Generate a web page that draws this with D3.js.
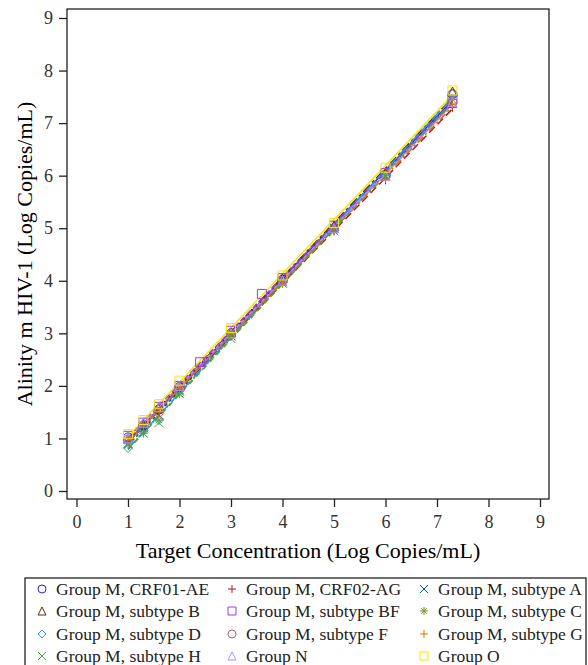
<!DOCTYPE html>
<html>
<head>
<meta charset="utf-8">
<script src="https://d3js.org/d3.v7.min.js"></script>
<style>
  body { margin: 0; background: #fff; }
  svg text { font-family: "Liberation Serif", "Times New Roman", Times, "DejaVu Serif", serif !important; }
</style>
</head>
<body>
<div id="chart"></div>
<script>
// ---- data ----
var groups = ["Group M, CRF01-AE", "Group M, CRF02-AG", "Group M, subtype A",
              "Group M, subtype B", "Group M, subtype BF", "Group M, subtype C",
              "Group M, subtype D", "Group M, subtype F", "Group M, subtype G",
              "Group M, subtype H", "Group N", "Group O"];
var targets = [1.0, 1.3, 1.6, 2.0, 3.0, 4.0, 5.0, 6.0, 7.3];
var targetsBF = [1.0, 1.3, 1.6, 2.0, 2.4, 3.0, 3.6, 4.0, 5.0, 6.0, 7.3];
var crf01ae = [1.02, 1.25, 1.55, 1.98, 3.00, 4.02, 5.00, 6.02, 7.55];
var crf02ag = [0.95, 1.20, 1.50, 1.95, 2.95, 3.95, 4.95, 5.92, 7.30];
var subA    = [0.90, 1.20, 1.45, 1.90, 2.95, 3.98, 5.00, 6.00, 7.45];
var subB    = [1.00, 1.28, 1.60, 2.00, 3.02, 4.05, 5.05, 6.05, 7.60];
var subBF   = [1.05, 1.30, 1.60, 2.00, 2.45, 3.05, 3.75, 4.05, 5.05, 6.05, 7.45];
var subC    = [0.90, 1.10, 1.35, 1.85, 2.95, 3.95, 4.95, 6.00, 7.45];
var subD    = [0.82, 1.15, 1.35, 1.90, 2.98, 4.00, 5.00, 6.05, 7.55];
var subF    = [0.98, 1.20, 1.50, 1.95, 3.00, 4.00, 5.00, 6.00, 7.40];
var subG    = [1.00, 1.25, 1.50, 1.95, 3.00, 3.95, 5.00, 5.95, 7.35];
var subH    = [0.88, 1.10, 1.30, 1.85, 2.90, 3.95, 4.95, 6.00, 7.45];
var grpN    = [1.00, 1.30, 1.60, 2.00, 3.00, 4.00, 5.00, 6.00, 7.40];
var grpO    = [1.08, 1.35, 1.65, 2.10, 3.10, 4.10, 5.10, 6.15, 7.62];
var xTicks = [0, 1, 2, 3, 4, 5, 6, 7, 8, 9];
var yTicks = [0, 1, 2, 3, 4, 5, 6, 7, 8, 9];

var xsList = [targets, targets, targets, targets, targetsBF, targets, targets, targets, targets, targets, targets, targets];
var ysList = [crf01ae, crf02ag, subA, subB, subBF, subC, subD, subF, subG, subH, grpN, grpO];

var colors = ["#2A25D9", "#B2182B", "#01665E", "#543005", "#9D3CDB", "#7F8E1F",
              "#2597FA", "#B26084", "#D17800", "#47A82A", "#B38EF3", "#F9E500"];
var shapes = ["circle", "plus", "x", "triangle", "square", "star",
              "diamond", "circle", "plus", "x", "triangle", "square"];
var dashes = [null, "8,4", "3,3", "10,3,3,3", "6,3", "2,2",
              "12,4", null, "8,3,2,3", "5,5", "4,2", null];

var serif = '"Liberation Serif", "Times New Roman", Times, "DejaVu Serif", serif';

// ---- layout ----
var W = 588, H = 665;
var frame = { left: 67, top: 9, right: 549, bottom: 499 };

var svg = d3.select("#chart").append("svg")
    .attr("width", W).attr("height", H)
    .attr("font-family", serif);

var x = d3.scaleLinear().domain([0, 9]).range([76.5, 540]);
var y = d3.scaleLinear().domain([0, 9]).range([491, 18]);

// frame
svg.append("rect")
    .attr("x", frame.left).attr("y", frame.top)
    .attr("width", frame.right - frame.left).attr("height", frame.bottom - frame.top)
    .attr("fill", "none").attr("stroke", "#222").attr("stroke-width", 1.3);

// axes
var xAxis = svg.append("g")
    .attr("transform", "translate(0," + frame.bottom + ")")
    .call(d3.axisBottom(x).tickValues(xTicks).tickSize(8).tickPadding(8).tickFormat(d3.format("d")));
var yAxis = svg.append("g")
    .attr("transform", "translate(" + frame.left + ",0)")
    .call(d3.axisLeft(y).tickValues(yTicks).tickSize(8).tickPadding(6).tickFormat(d3.format("d")));
[xAxis, yAxis].forEach(function (a) {
  a.attr("font-family", serif).attr("font-size", 18);
  a.select(".domain").remove();
  a.selectAll(".tick line").attr("stroke", "#222").attr("stroke-width", 1.3);
  a.selectAll(".tick text").attr("fill", "#333");
});

svg.append("text")
    .attr("x", (frame.left + frame.right) / 2).attr("y", 558)
    .attr("text-anchor", "middle").attr("font-size", 22).attr("fill", "#000")
    .text("Target Concentration (Log Copies/mL)");
svg.append("text")
    .attr("transform", "translate(32," + (frame.top + frame.bottom) / 2 + ") rotate(-90)")
    .attr("text-anchor", "middle").attr("font-size", 22).attr("fill", "#000")
    .text("Alinity m HIV-1 (Log Copies/mL)");

// marker drawing
function symbolPath(shape, s) {
  var h = s / 2;
  switch (shape) {
    case "circle": return null;
    case "plus": return "M" + (-h) + ",0H" + h + "M0," + (-h) + "V" + h;
    case "x": return "M" + (-h) + "," + (-h) + "L" + h + "," + h + "M" + (-h) + "," + h + "L" + h + "," + (-h);
    case "triangle": return "M0," + (-h) + "L" + h + "," + h + "L" + (-h) + "," + h + "Z";
    case "square": return "M" + (-h) + "," + (-h) + "H" + h + "V" + h + "H" + (-h) + "Z";
    case "diamond": return "M0," + (-h) + "L" + h + ",0L0," + h + "L" + (-h) + ",0Z";
    case "star":
      return "M" + (-h) + ",0H" + h + "M0," + (-h) + "V" + h +
             "M" + (-h * 0.7) + "," + (-h * 0.7) + "L" + (h * 0.7) + "," + (h * 0.7) +
             "M" + (-h * 0.7) + "," + (h * 0.7) + "L" + (h * 0.7) + "," + (-h * 0.7);
  }
}
function drawMarker(g, shape, color, cx, cy, s) {
  if (shape === "circle") {
    g.append("circle").attr("cx", cx).attr("cy", cy).attr("r", s / 2)
      .attr("fill", "none").attr("stroke", color).attr("stroke-width", 1);
  } else {
    g.append("path").attr("d", symbolPath(shape, s))
      .attr("transform", "translate(" + cx + "," + cy + ")")
      .attr("fill", "none").attr("stroke", color).attr("stroke-width", 1);
  }
}

// regression line per group
function fit(xs, ys) {
  var mx = d3.mean(xs), my = d3.mean(ys);
  var sxy = d3.sum(xs, function (v, i) { return (v - mx) * (ys[i] - my); });
  var sxx = d3.sum(xs, function (v) { return (v - mx) * (v - mx); });
  var b = sxy / sxx;
  return { a: my - b * mx, b: b };
}

var plot = svg.append("g");
groups.forEach(function (gname, i) {
  var xs = xsList[i], ys = ysList[i];
  var f = fit(xs, ys);
  var x0 = d3.min(xs), x1 = d3.max(xs);
  plot.append("line")
    .attr("x1", x(x0)).attr("y1", y(f.a + f.b * x0))
    .attr("x2", x(x1)).attr("y2", y(f.a + f.b * x1))
    .attr("stroke", colors[i]).attr("stroke-width", 1.5)
    .attr("stroke-dasharray", dashes[i]);
});
groups.forEach(function (gname, i) {
  var g = plot.append("g");
  xsList[i].forEach(function (v, j) {
    drawMarker(g, shapes[i], colors[i], x(v), y(ysList[i][j]), 9);
  });
});

// legend
var legend = svg.append("g");
legend.append("rect")
    .attr("x", 25).attr("y", 578).attr("width", 561).attr("height", 100)
    .attr("fill", "none").attr("stroke", "#222").attr("stroke-width", 1.3);
var colX = [42, 232, 424];
var rowY = [589, 611, 634, 656];
groups.forEach(function (gname, i) {
  var c = i % 3, r = Math.floor(i / 3);
  var lx = colX[c], ly = rowY[r];
  drawMarker(legend, shapes[i], colors[i], lx, ly, 8);
  legend.append("text")
    .attr("x", lx + 14).attr("y", ly).attr("dy", "0.35em")
    .attr("font-size", 17.5).attr("fill", "#222")
    .text(gname);
});
</script>
</body>
</html>
